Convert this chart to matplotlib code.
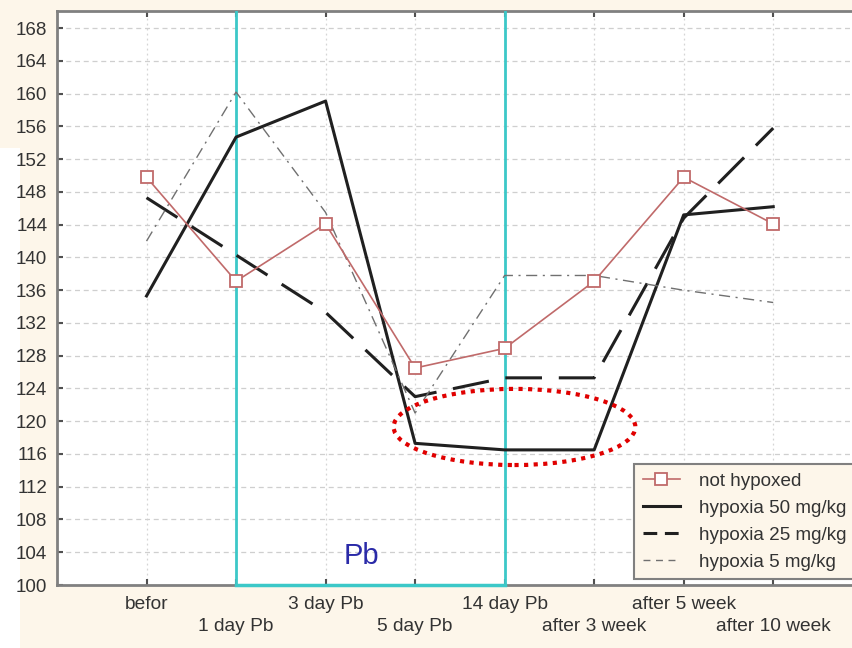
import matplotlib.pyplot as plt
from matplotlib.patches import Ellipse, Rectangle
from matplotlib.lines import Line2D

# categories (x axis)
stages = ['befor', '1 day Pb', '3 day Pb', '5 day Pb', '14 day Pb',
          'after 3 week', 'after 5 week', 'after 10 week']

# series
not_hypoxed = [149.8, 137.1, 144.1, 126.5, 128.9, 137.1, 149.8, 144.1]
hyp_50 = [135.3, 154.7, 159.1, 117.3, 116.5, 116.5, 145.2, 146.2]
hyp_25 = [147.3, 140.3, 133.3, 123.0, 125.3, 125.3, 144.8, 155.8]
hyp_5 = [142.0, 160.2, 145.5, 121.0, 137.8, 137.8, 136.0, 134.5]
series_names = ['not hypoxed', 'hypoxia 50 mg/kg', 'hypoxia 25 mg/kg', 'hypoxia 5 mg/kg']

y_ticks = list(range(100, 169, 4))

cream = '#fdf6ea'
red = '#c06a6a'
plt.rcParams['font.family'] = ['Liberation Sans', 'DejaVu Sans']
fig = plt.figure(figsize=(8.52, 6.48), dpi=100, facecolor=cream)

# white strip on the left edge (scan artefact)
fig.patches.append(Rectangle((0, 0), 20 / 852, 1 - 148 / 648, transform=fig.transFigure,
                             facecolor='white', edgecolor='none', zorder=-5))

ax = fig.add_axes([57 / 852, 63 / 648, 795 / 852, 574 / 648])
ax.set_facecolor('white')

x = list(range(len(stages)))

# Pb exposure window
for xv in (1, 4):
    ax.axvline(xv, color='#3cc8c8', lw=2, zorder=3)
ax.plot([1, 4], [100, 100], color='#3cc8c8', lw=2.5, zorder=4, clip_on=False)

ax.plot(x, not_hypoxed, color=red, lw=1.2, marker='s', ms=8,
        mfc='white', mec=red, mew=1.3, zorder=5)
ax.plot(x, hyp_50, color='#202020', lw=2.2, zorder=4)
ax.plot(x, hyp_25, color='#202020', lw=2.2, dashes=(12, 5.5), zorder=4)
ax.plot(x, hyp_5, color='#707070', lw=1.0, dashes=(8, 4, 1.5, 4), zorder=4)

# highlight of the lowest values
ax.add_patch(Ellipse((4.11, 119.3), 2.70, 9.3, fill=False, edgecolor='#e00000',
                     lw=3, linestyle=(0, (1, 1.3)), zorder=6))

ax.text(2.4, 103.6, 'Pb', color='#2a2aa8', fontsize=21, ha='center', va='center')

ax.set_xlim(-1, 7.88)
ax.set_ylim(100, 170.1)
ax.set_yticks(y_ticks)
ax.set_xticks(x[0::2])
ax.set_xticklabels(stages[0::2])
ax.set_xticks(x[1::2], minor=True)
ax.set_xticklabels(stages[1::2], minor=True)

ax.grid(axis='y', color='#cfcfcf', linestyle=(0, (4, 3)), lw=0.9)
ax.grid(axis='x', which='both', color='#d5d5d5', linestyle=(0, (1.5, 2.5)), lw=0.9)
ax.set_axisbelow(True)

ax.tick_params(axis='y', direction='in', length=4, width=1.5, color='#505050',
               labelsize=13.5, labelcolor='#333333', pad=7)
ax.tick_params(axis='x', which='both', direction='in', length=4, width=1.5, color='#505050',
               labelsize=13.8, labelcolor='#333333', top=True)
ax.tick_params(axis='x', which='major', pad=8)
ax.tick_params(axis='x', which='minor', pad=24)

for side in ('left', 'bottom', 'top'):
    ax.spines[side].set_color('#808080')
    ax.spines[side].set_linewidth(2)
ax.spines['right'].set_visible(False)

handles = [
    Line2D([], [], color=red, lw=1.2, marker='s', ms=8, mfc='white', mec=red, mew=1.3),
    Line2D([], [], color='#202020', lw=2.2),
    Line2D([], [], color='#202020', lw=2.2, dashes=(4.5, 2.5)),
    Line2D([], [], color='#707070', lw=1.0, dashes=(5, 4)),
]
leg = ax.legend(handles, series_names, loc='upper left',
                bbox_to_anchor=((634 - 57) / 795, 1 - (464 - 11) / 574),
                frameon=True, fontsize=13.6, handlelength=2.0, handletextpad=1.0,
                labelspacing=0.52, borderpad=0.45, borderaxespad=0, fancybox=False)
leg.get_frame().set_facecolor(cream)
leg.get_frame().set_edgecolor('#808080')
leg.get_frame().set_linewidth(1.5)
leg.get_frame().set_alpha(1)
for t in leg.get_texts():
    t.set_color('#333333')

fig.savefig('out.png', dpi=100, facecolor=cream)
